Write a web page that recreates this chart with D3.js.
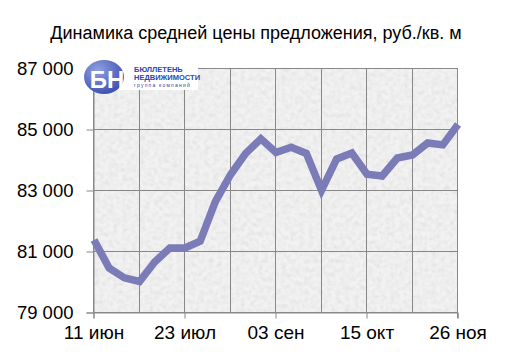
<!DOCTYPE html>
<html><head><meta charset="utf-8">
<script src="https://cdn.jsdelivr.net/npm/d3@7"></script>
<style>body{margin:0;background:#fff;}svg{display:block;font-family:"Liberation Sans",Arial,sans-serif;}</style>
</head><body>
<svg id="c" width="510" height="361"></svg>
<script>
const title = "Динамика средней цены предложения, руб./кв. м";
const startDate = "2007-06-11";
const weeks = d3.range(25);
const values = [81360,80440,80120,80000,80640,81100,81100,81320,82620,83500,84200,84680,84230,84400,84200,82990,84020,84210,83520,83460,84050,84150,84540,84480,85150];
const yTicks = [79000,81000,83000,85000,87000];
const xTickLabels = ["11 июн","23 июл","03 сен","15 окт","26 ноя"];

const svg = d3.select("#c");
const m = {l:93, r:457, t:68, b:312};
const parse = d3.timeParse("%Y-%m-%d");
const d0 = parse(startDate);
const dates = weeks.map(w => d3.timeDay.offset(d0, w*7));
const x = d3.scaleTime().domain([dates[0], dates[dates.length-1]]).range([m.l, m.r]);
const y = d3.scaleLinear().domain([79000,87000]).range([m.b, m.t]);

// background with texture
const defs = svg.append("defs");
const filt = defs.append("filter").attr("id","tex").attr("x",0).attr("y",0).attr("width","100%").attr("height","100%");
filt.append("feTurbulence").attr("type","fractalNoise").attr("baseFrequency","0.22").attr("numOctaves",2).attr("seed",3).attr("result","n");
filt.append("feColorMatrix").attr("in","n").attr("type","matrix")
  .attr("values","0 0 0 0 0.7  0 0 0 0 0.7  0 0 0 0 0.7  0.8 0.8 0 0 -0.62").attr("result","m");
filt.append("feComposite").attr("in","m").attr("in2","SourceGraphic").attr("operator","over");
svg.append("rect").attr("x",m.l).attr("y",m.t).attr("width",m.r-m.l).attr("height",m.b-m.t)
  .attr("fill","#f2f2f2").attr("filter","url(#tex)");

// gridlines
const gridDates = d3.range(0,25,3).map(w => d3.timeDay.offset(d0, w*7));
svg.append("g").selectAll("line").data(gridDates).join("line")
  .attr("x1",d=>Math.round(x(d))+0.5).attr("x2",d=>Math.round(x(d))+0.5)
  .attr("y1",m.t).attr("y2",m.b).attr("stroke","#888").attr("stroke-width",1);
svg.append("g").selectAll("line").data(yTicks).join("line")
  .attr("x1",m.l).attr("x2",m.r).attr("y1",d=>Math.round(y(d))+0.5).attr("y2",d=>Math.round(y(d))+0.5)
  .attr("stroke","#888").attr("stroke-width",1);

// axes
const tickDates = d3.range(0,25,6).map(w => d3.timeDay.offset(d0, w*7));
const xAxis = d3.axisBottom(x).tickValues(tickDates).tickSize(6).tickPadding(4)
  .tickFormat((d,i)=>xTickLabels[i]);
const gx = svg.append("g").attr("transform",`translate(0.5,${m.b+0.5})`).call(xAxis);
gx.select(".domain").attr("stroke","#888");
gx.selectAll(".tick line").attr("stroke","#888");
gx.selectAll("text").attr("font-size",19).attr("fill","#000").attr("dy","0.85em");

const yAxis = d3.axisLeft(y).tickValues(yTicks).tickSize(7).tickPadding(13)
  .tickFormat(d => d3.format(",")(d).replace(",", " "));
const gy = svg.append("g").attr("transform",`translate(${m.l+0.5},0.5)`).call(yAxis);
gy.select(".domain").attr("stroke","#888");
gy.selectAll(".tick line").attr("stroke","#888");
gy.selectAll("text").attr("font-size",18.5).attr("fill","#000");

// right/top border
svg.append("line").attr("x1",m.r+0.5).attr("x2",m.r+0.5).attr("y1",m.t).attr("y2",m.b+6).attr("stroke","#888");
svg.append("line").attr("x1",m.l).attr("x2",m.r).attr("y1",m.t+0.5).attr("y2",m.t+0.5).attr("stroke","#888");

// line
const line = d3.line().x((d,i)=>x(dates[i])+1).y(d=>y(d));
svg.append("path").datum(values).attr("d",line).attr("fill","none")
  .attr("stroke","#7b7bb8").attr("stroke-width",7.5).attr("stroke-linejoin","miter").attr("stroke-linecap","butt");

// title
svg.append("text").attr("x",256).attr("y",39).attr("text-anchor","middle")
  .attr("font-size",18).attr("fill","#000").text(title);

// logo
const lg = svg.append("g");
lg.append("rect").attr("x",84).attr("y",60).attr("width",114).attr("height",30).attr("fill","#fff");
const grad = defs.append("radialGradient").attr("id","lgr").attr("cx","35%").attr("cy","30%").attr("r","75%");
grad.append("stop").attr("offset","0%").attr("stop-color","#8fa0e0");
grad.append("stop").attr("offset","100%").attr("stop-color","#3a4fb0");
lg.append("ellipse").attr("cx",104).attr("cy",77).attr("rx",20).attr("ry",17).attr("fill","url(#lgr)");
lg.append("text").attr("x",107).attr("y",88).attr("text-anchor","middle").attr("font-size",24)
  .attr("font-weight","bold").attr("fill","#fff").attr("font-family","Liberation Sans").text("БН");
lg.append("text").attr("x",134).attr("y",72).attr("font-size",7.5).attr("font-weight","bold").attr("fill","#2e46a8").text("БЮЛЛЕТЕНЬ");
lg.append("text").attr("x",134).attr("y",80).attr("font-size",7.5).attr("font-weight","bold").attr("fill","#2e46a8").text("НЕДВИЖИМОСТИ");
lg.append("text").attr("x",134).attr("y",87).attr("font-size",5).attr("letter-spacing",1.2).attr("fill","#2e46a8").text("группа компаний");
</script>
</body></html>
